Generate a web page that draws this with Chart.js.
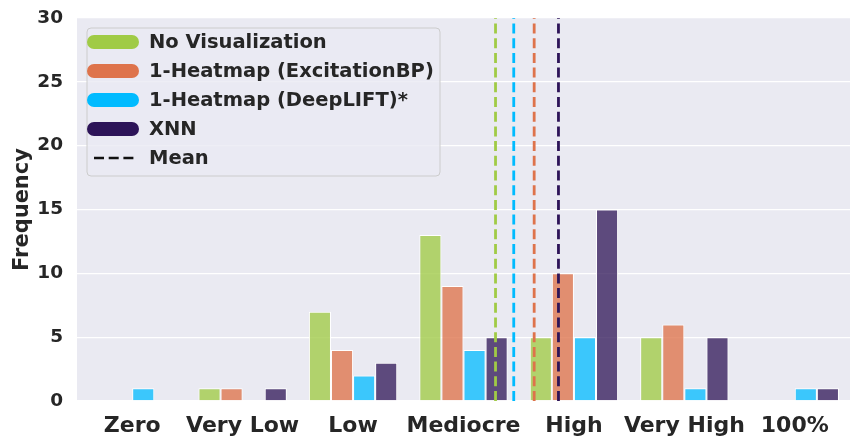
<!DOCTYPE html>
<html>
<head>
<meta charset="utf-8">
<script src="https://cdn.jsdelivr.net/npm/chart.js@4/dist/chart.umd.min.js"></script>
<style>
  html, body { margin: 0; padding: 0; background: #ffffff; }
  #wrap { width: 861px; height: 445px; position: relative; }
</style>
</head>
<body>
<div id="wrap"><canvas id="c" width="861" height="445"></canvas></div>
<script>
// ---- data ----
const categories = ['Zero', 'Very Low', 'Low', 'Mediocre', 'High', 'Very High', '100%'];
const seriesNames = ['No Visualization', '1-Heatmap (ExcitationBP)', '1-Heatmap (DeepLIFT)*', 'XNN'];
const noVisualization = [0, 1, 7, 13, 5, 5, 0];
const heatmapExcitationBP = [0, 1, 4, 9, 10, 6, 0];
const heatmapDeepLIFT = [1, 0, 2, 4, 5, 1, 1];
const xnn = [0, 1, 3, 5, 15, 5, 1];
// mean positions (in category units, Zero = 0)
const meanPositions = [3.29, 3.64, 3.455, 3.86];
const yMin = 0, yMax = 30, yStep = 5;
const meanLabel = 'Mean';

// ---- styles ----
const solidColors = ['#a0cb46', '#de734b', '#00bbff', '#2d1458'];
const barColors = ['rgba(160,203,70,0.78)', 'rgba(222,115,75,0.78)', 'rgba(0,187,255,0.75)', 'rgba(45,20,85,0.75)'];
const seriesValues = [noVisualization, heatmapExcitationBP, heatmapDeepLIFT, xnn];
const FONT = '"DejaVu Sans", sans-serif';

const datasets = [];
seriesValues.forEach((vals, i) => {
  datasets.push({
    type: 'bar',
    label: seriesNames[i],
    data: vals.map((v, k) => ({ x: k, y: v })),
    backgroundColor: barColors[i],
    borderColor: '#ffffff',
    borderWidth: 1,
    categoryPercentage: 0.8,
    barPercentage: 1.0,
    order: 1
  });
});
meanPositions.forEach((m, i) => {
  datasets.push({
    type: 'line',
    label: seriesNames[i] + ' mean',
    data: [{ x: m, y: yMin }, { x: m, y: yMax }],
    borderColor: solidColors[i],
    borderWidth: 2.8,
    borderDash: [10, 4.7],
    pointRadius: 0,
    fill: false,
    order: -1,
    clip: false
  });
});

const legendPlugin = {
  id: 'boxLegend',
  afterDraw(chart) {
    const ctx = chart.ctx;
    const x0 = 87, y0 = 28, w = 353, h = 148;
    ctx.save();
    ctx.beginPath();
    const r = 4;
    ctx.moveTo(x0 + r, y0);
    ctx.lineTo(x0 + w - r, y0);
    ctx.quadraticCurveTo(x0 + w, y0, x0 + w, y0 + r);
    ctx.lineTo(x0 + w, y0 + h - r);
    ctx.quadraticCurveTo(x0 + w, y0 + h, x0 + w - r, y0 + h);
    ctx.lineTo(x0 + r, y0 + h);
    ctx.quadraticCurveTo(x0, y0 + h, x0, y0 + h - r);
    ctx.lineTo(x0, y0 + r);
    ctx.quadraticCurveTo(x0, y0, x0 + r, y0);
    ctx.closePath();
    ctx.fillStyle = 'rgba(234,234,242,0.8)';
    ctx.fill();
    ctx.strokeStyle = '#cccccc';
    ctx.lineWidth = 1;
    ctx.stroke();
    const rowH = 29;
    const firstY = 42;
    ctx.font = 'bold 19.5px ' + FONT;
    ctx.textBaseline = 'middle';
    ctx.textAlign = 'left';
    const labels = seriesNames.concat([meanLabel]);
    labels.forEach((lab, i) => {
      const yy = firstY + i * rowH;
      if (i < seriesNames.length) {
        ctx.beginPath();
        ctx.lineCap = 'round';
        ctx.lineWidth = 14;
        ctx.strokeStyle = solidColors[i];
        ctx.moveTo(94, yy);
        ctx.lineTo(132, yy);
        ctx.stroke();
      } else {
        ctx.beginPath();
        ctx.lineCap = 'butt';
        ctx.lineWidth = 2.6;
        ctx.strokeStyle = '#111111';
        ctx.setLineDash([10, 4.7]);
        ctx.moveTo(94, yy);
        ctx.lineTo(134, yy);
        ctx.stroke();
        ctx.setLineDash([]);
      }
      ctx.fillStyle = '#262626';
      ctx.fillText(lab, 149, yy + 1);
    });
    ctx.restore();
  }
};

const bgPlugin = {
  id: 'plotBg',
  beforeDraw(chart) {
    const { ctx, chartArea } = chart;
    ctx.save();
    ctx.fillStyle = '#ffffff';
    ctx.fillRect(0, 0, chart.width, chart.height);
    ctx.fillStyle = '#eaeaf2';
    ctx.fillRect(chartArea.left, chartArea.top, chartArea.right - chartArea.left, chartArea.bottom - chartArea.top);
    ctx.restore();
  }
};

const chart = new Chart(document.getElementById('c'), {
  type: 'bar',
  data: { datasets: datasets },
  options: {
    responsive: false,
    animation: false,
    devicePixelRatio: 1,
    layout: { padding: { left: 0, right: 11, top: 18, bottom: 0 } },
    plugins: {
      legend: { display: false },
      tooltip: { enabled: false }
    },
    scales: {
      x: {
        type: 'linear',
        min: -0.5,
        max: 6.5,
        offset: false,
        grid: { display: false, drawTicks: false },
        border: { display: false },
        afterBuildTicks(s) { s.ticks = categories.map((c, k) => ({ value: k })); },
        ticks: {
          color: '#262626', font: { family: FONT, size: 22, weight: 'bold' }, padding: 12, maxRotation: 0, autoSkip: false,
          callback: (v) => categories[Math.round(v)]
        },
        afterFit(s) { s.height = 44; s.paddingLeft = 0; s.paddingRight = 0; }
      },
      y: {
        type: 'linear',
        min: yMin,
        max: yMax,
        ticks: { stepSize: yStep, color: '#262626', font: { family: FONT, size: 18.5, weight: 'bold' }, padding: 14 },
        grid: { color: '#ffffff', lineWidth: 1.3, drawTicks: false },
        border: { display: false },
        title: { display: true, text: 'Frequency', color: '#262626', font: { family: FONT, size: 21, weight: 'bold' }, padding: { top: 10, bottom: 0 } },
        afterFit(s) { s.width = 77; s.paddingTop = 0; s.paddingBottom = 0; }
      }
    }
  },
  plugins: [bgPlugin, legendPlugin]
});
</script>
</body>
</html>
